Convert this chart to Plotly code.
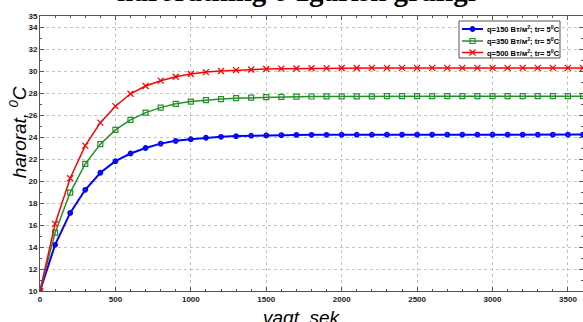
import plotly.graph_objects as go

# time, seconds
t = list(range(0, 3700, 100))

# temperature, deg C
temp_q150 = [10.0, 14.2, 17.1, 19.2, 20.75, 21.8, 22.5, 23.0, 23.4, 23.65, 23.8, 23.93,
             24.02, 24.08, 24.12, 24.15, 24.17, 24.19, 24.2, 24.2, 24.21, 24.21, 24.21,
             24.22, 24.22, 24.22, 24.22, 24.22, 24.22, 24.22, 24.22, 24.22, 24.22, 24.22,
             24.22, 24.22, 24.22]
temp_q350 = [10.0, 15.3, 18.95, 21.55, 23.35, 24.65, 25.55, 26.22, 26.67, 27.02, 27.22, 27.35,
             27.45, 27.53, 27.58, 27.62, 27.65, 27.67, 27.68, 27.69, 27.7, 27.7, 27.7,
             27.71, 27.71, 27.71, 27.71, 27.71, 27.71, 27.71, 27.71, 27.71, 27.71, 27.71,
             27.71, 27.71, 27.71]
temp_q500 = [10.0, 16.1, 20.25, 23.22, 25.3, 26.8, 27.93, 28.64, 29.12, 29.48, 29.73, 29.9,
             30.0, 30.08, 30.14, 30.18, 30.21, 30.23, 30.25, 30.26, 30.27, 30.27, 30.28,
             30.28, 30.28, 30.28, 30.28, 30.28, 30.28, 30.28, 30.28, 30.28, 30.28, 30.28,
             30.28, 30.28, 30.28]

names = ["q=150 Вт/м<sup>2</sup>; tr= 5<sup>0</sup>C",
         "q=350 Вт/м<sup>2</sup>; tr= 5<sup>0</sup>C",
         "q=500 Вт/м<sup>2</sup>; tr= 5<sup>0</sup>C"]

x_ticks = [0, 500, 1000, 1500, 2000, 2500, 3000, 3500]
y_ticks = [10, 12, 14, 16, 18, 20, 22, 24, 26, 28, 30, 32, 34, 35]

series = [
    (temp_q150, "#0000ff", 2.0, dict(symbol="circle-open", size=4, line=dict(width=1.8))),
    (temp_q350, "#24902a", 1.5, dict(symbol="square-open", size=5, line=dict(width=1.2))),
    (temp_q500, "#ff0000", 1.5, dict(symbol="x-thin-open", size=6, line=dict(width=1.2))),
]

fig = go.Figure()
for (vals, color, lw, mk), name in zip(series, names):
    fig.add_trace(go.Scatter(x=t, y=vals, name=name, mode="lines+markers",
                             line=dict(color=color, width=lw),
                             marker=dict(color=color, **mk), showlegend=False))

# Legend box drawn on a pixel-based overlay axis pair (x2/y2)
box_l, box_r, box_t, box_b = 459, 560, 21, 58
fig.add_trace(go.Scatter(x=[box_l, box_r, box_r, box_l, box_l],
                         y=[box_t, box_t, box_b, box_b, box_t],
                         xaxis="x2", yaxis="y2", mode="lines", fill="toself",
                         fillcolor="white", line=dict(color="#555555", width=1),
                         hoverinfo="skip", showlegend=False))
row_y = [29, 41, 52.5]
for (vals, color, lw, mk), name, ry in zip(series, names, row_y):
    fig.add_trace(go.Scatter(x=[462, 483], y=[ry, ry], xaxis="x2", yaxis="y2",
                             mode="lines", line=dict(color=color, width=lw),
                             hoverinfo="skip", showlegend=False))
    fig.add_trace(go.Scatter(x=[472.5], y=[ry], xaxis="x2", yaxis="y2",
                             mode="markers", marker=dict(color=color, **mk),
                             hoverinfo="skip", showlegend=False))
    fig.add_annotation(text=name, xref="x2", yref="y2", x=485, y=ry,
                       xanchor="left", yanchor="middle", showarrow=False,
                       font=dict(family="Liberation Sans Narrow, Arial Narrow, sans-serif",
                                 size=7.5, color="black", weight="bold"))

tick_font = dict(family="Liberation Sans Narrow, Arial Narrow, sans-serif", size=8,
                 color="#222222", weight="bold")

axis_common = dict(
    showline=True, linecolor="#555555", linewidth=1, mirror="ticks",
    ticks="inside", ticklen=4, tickcolor="#555555",
    showgrid=True, gridcolor="#c4c4c4", griddash="dot", gridwidth=1,
    zeroline=False, tickfont=tick_font,
)

fig.update_xaxes(range=[0, 3600], tickvals=x_ticks,
                 minor=dict(dtick=100, ticks="inside", ticklen=2, tickcolor="#555555",
                            showgrid=False),
                 **axis_common)
fig.update_yaxes(range=[10, 35], tickvals=y_ticks,
                 minor=dict(dtick=1, ticks="inside", ticklen=2, tickcolor="#555555",
                            showgrid=False),
                 **axis_common)

fig.add_annotation(text="haroratning o'zgarish grafigi", xref="paper", yref="paper",
                   x=0.473, y=1.024, xanchor="center", yanchor="bottom", showarrow=False,
                   font=dict(family="Liberation Serif", size=29, color="black",
                             weight="bold"))
fig.add_annotation(text="vaqt, sek", xref="paper", yref="paper",
                   x=0.482, y=-0.052, xanchor="center", yanchor="top", showarrow=False,
                   font=dict(family="Liberation Sans, Arial, sans-serif", size=19,
                             color="black", style="italic"))
fig.add_annotation(text="harorat, <sup>0</sup>C", xref="paper", yref="paper",
                   x=-0.04, y=0.578, xanchor="center", yanchor="middle", showarrow=False,
                   textangle=-90,
                   font=dict(family="Liberation Sans, Arial, sans-serif", size=19,
                             color="black", style="italic"))

fig.update_layout(
    width=583, height=322,
    margin=dict(l=40, r=0, t=16, b=31),
    paper_bgcolor="white", plot_bgcolor="white",
    showlegend=False,
    xaxis2=dict(overlaying="x", anchor="y2", range=[40, 583], visible=False,
                fixedrange=True),
    yaxis2=dict(overlaying="y", anchor="x2", range=[291, 16], visible=False,
                fixedrange=True),
)

fig.write_html("out.html")
